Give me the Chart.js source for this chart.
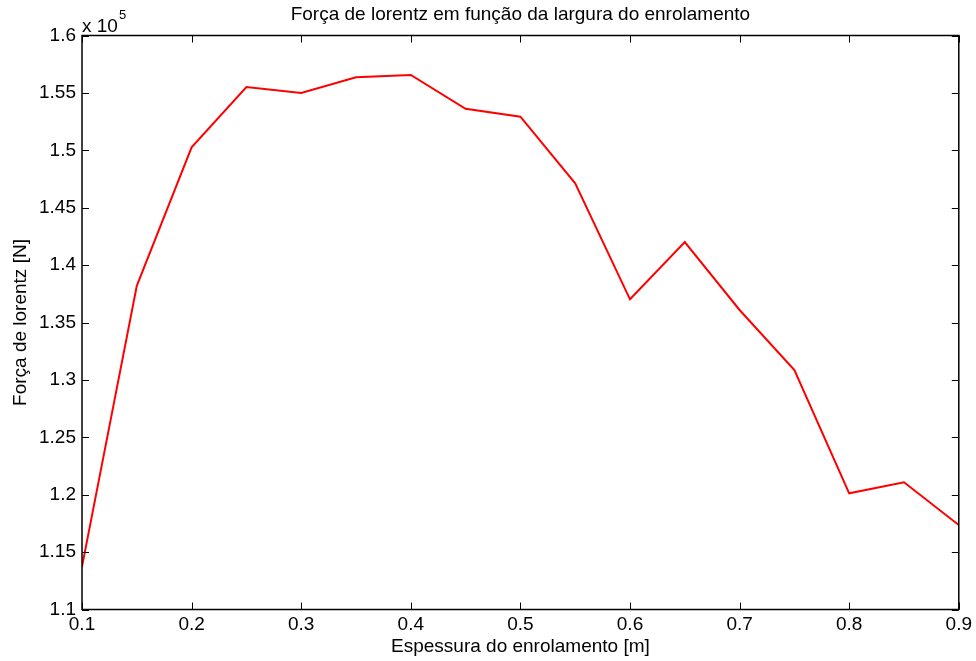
<!DOCTYPE html>
<html>
<head>
<meta charset="utf-8">
<script src="https://cdn.jsdelivr.net/npm/chart.js@4.4.1/dist/chart.umd.min.js"></script>
<style>
  html, body { margin: 0; padding: 0; background: #fff; }
  #wrap { width: 976px; height: 661px; }
</style>
</head>
<body>
<div id="wrap"><canvas id="c" width="976" height="661"></canvas></div>
<script>
// Winding thickness [m] and Lorentz force [N]
const espessura = [0.10, 0.15, 0.20, 0.25, 0.30, 0.35, 0.40, 0.45, 0.50,
                   0.55, 0.60, 0.65, 0.70, 0.75, 0.80, 0.85, 0.90];
const forca = [113730, 138200, 150260, 155510, 154990, 156360, 156560, 153620, 152930,
               147130, 137020, 142010, 136090, 130860, 120120, 121080, 117360];
const xTicks = [0.1, 0.2, 0.3, 0.4, 0.5, 0.6, 0.7, 0.8, 0.9];
const yTicks = [1.1, 1.15, 1.2, 1.25, 1.3, 1.35, 1.4, 1.45, 1.5, 1.55, 1.6];
const yExponent = 5;

const FONT = 'Liberation Sans, Arial, Helvetica, sans-serif';
const TEXT_SIZE = 19;

// Box around the axes with inward ticks on all four sides, plus the exponent label
const matlabAxes = {
  id: 'matlabAxes',
  afterDraw(chart) {
    const { ctx, chartArea: a, scales } = chart;
    const x = scales.x, y = scales.y;
    ctx.save();
    ctx.strokeStyle = '#000';
    ctx.lineWidth = 1;
    const len = 7;
    ctx.beginPath();
    x.ticks.forEach(t => {
      const px = Math.round(x.getPixelForValue(t.value)) + 0.5;
      ctx.moveTo(px, a.bottom); ctx.lineTo(px, a.bottom - len);
      ctx.moveTo(px, a.top); ctx.lineTo(px, a.top + len);
    });
    y.ticks.forEach(t => {
      const py = Math.round(y.getPixelForValue(t.value)) + 0.5;
      ctx.moveTo(a.left, py); ctx.lineTo(a.left + len, py);
      ctx.moveTo(a.right, py); ctx.lineTo(a.right - len, py);
    });
    ctx.stroke();
    ctx.lineWidth = 1.5;
    ctx.strokeRect(a.left, a.top, a.right - a.left, a.bottom - a.top);
    // exponent label "x 10^5"
    ctx.fillStyle = '#000';
    ctx.textBaseline = 'alphabetic';
    ctx.textAlign = 'left';
    ctx.font = TEXT_SIZE + 'px ' + FONT;
    const base = 'x 10';
    ctx.fillText(base, a.left, a.top - 4);
    const w = ctx.measureText(base).width;
    ctx.font = '13px ' + FONT;
    ctx.fillText(String(yExponent), a.left + w + 1, a.top - 17);
    ctx.restore();
  }
};

new Chart(document.getElementById('c'), {
  type: 'line',
  data: {
    datasets: [{
      data: espessura.map((v, i) => ({ x: v, y: forca[i] })),
      borderColor: '#ff0000',
      borderWidth: 2,
      pointRadius: 0,
      tension: 0,
      fill: false
    }]
  },
  options: {
    responsive: false,
    animation: false,
    devicePixelRatio: 1,
    layout: { padding: { left: 0, right: 16, top: 0, bottom: 0 } },
    plugins: {
      legend: { display: false },
      tooltip: { enabled: false },
      title: {
        display: true,
        fullSize: false,
        text: 'Força de lorentz em função da largura do enrolamento',
        color: '#000',
        font: { family: FONT, size: TEXT_SIZE, weight: 'normal' },
        padding: { top: 3, bottom: 9.7 }
      }
    },
    scales: {
      x: {
        type: 'linear',
        min: 0.1, max: 0.9,
        afterBuildTicks(s) { s.ticks = xTicks.map(v => ({ value: v })); },
        afterFit(s) { s.height = 51.5; },
        grid: { display: false, drawTicks: false },
        border: { display: false },
        ticks: {
          color: '#000', padding: 4,
          font: { family: FONT, size: TEXT_SIZE },
          callback: v => String(Math.round(v * 10) / 10)
        },
        title: {
          display: true, text: 'Espessura do enrolamento [m]', color: '#000',
          font: { family: FONT, size: TEXT_SIZE }, padding: { top: 0, bottom: 2.6 }
        }
      },
      y: {
        type: 'linear',
        min: 1.1 * Math.pow(10, yExponent), max: 1.6 * Math.pow(10, yExponent),
        afterBuildTicks(s) { s.ticks = yTicks.map(v => ({ value: v * Math.pow(10, yExponent) })); },
        afterFit(s) { s.width = 82; },
        grid: { display: false, drawTicks: false },
        border: { display: false },
        ticks: {
          color: '#000', padding: 6,
          font: { family: FONT, size: TEXT_SIZE },
          callback: v => String(Math.round(v / Math.pow(10, yExponent - 2)) / 100)
        },
        title: {
          display: true, text: 'Força de lorentz [N]', color: '#000',
          font: { family: FONT, size: TEXT_SIZE }, padding: { top: 9, bottom: 0 }
        }
      }
    }
  },
  plugins: [matlabAxes]
});
</script>
</body>
</html>
